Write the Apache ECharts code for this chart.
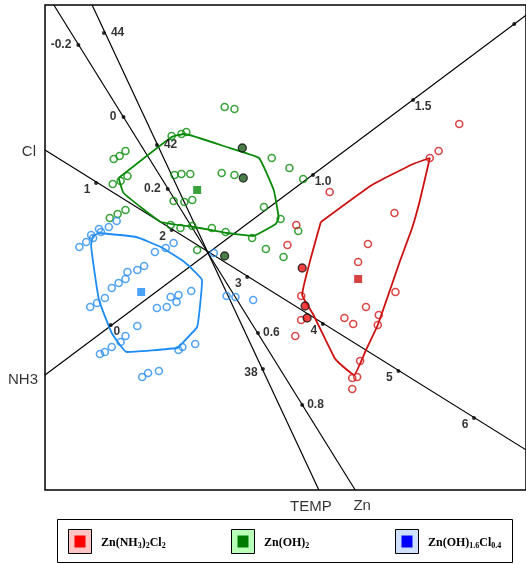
<!DOCTYPE html>
<html>
<head>
<meta charset="utf-8">
<script src="https://cdn.jsdelivr.net/npm/echarts/dist/echarts.min.js"></script>
<style>
html, body { margin: 0; padding: 0; background: #fff; }
#chart { width: 526px; height: 564px; }
</style>
</head>
<body>
<div id="chart"></div>
<script>
// Biplot scores (component 1, component 2)

// Zn(OH)2 samples
const greenOpen = [
  [-0.41, 1.17], [-0.31, 1.19], [-0.26, 1.21],
  [-1.00, 0.94], [-0.94, 0.97], [-0.88, 1.02],
  [-0.38, 0.78], [-0.31, 0.79], [-0.22, 0.79],
  [-1.01, 0.69], [-0.93, 0.72], [-0.86, 0.77],
  [-0.39, 0.52], [-0.28, 0.51], [-0.20, 0.53],
  [-1.04, 0.35], [-0.96, 0.39], [-0.88, 0.43],
  [-0.42, 0.28], [-0.32, 0.25], [-0.20, 0.27], [0.00, 0.25], [0.14, 0.21], [0.41, 0.15],
  [0.10, 0.80], [0.23, 0.78],
  [0.13, 1.46], [0.23, 1.44],
  [0.61, 0.95], [0.79, 0.85], [0.93, 0.74],
  [0.53, 0.46], [0.70, 0.34],
  [-0.15, 0.03], [0.55, 0.04], [0.73, -0.04], [0.88, 0.22]
];
const greenFilled = [[0.31, 1.05], [0.32, 0.75], [0.13, -0.03]];
const greenCentroid = [[-0.15, 0.63]];
const greenHull = [
  [-0.95, 0.75], [-0.41, 1.16], [-0.28, 1.19], [0.15, 1.06], [0.48, 0.95],
  [0.63, 0.63], [0.68, 0.35], [0.65, 0.29], [0.42, 0.17], [0.15, 0.20],
  [-0.18, 0.26], [-0.52, 0.31], [-0.90, 0.60], [-0.95, 0.75]
];

// Zn(OH)1.6Cl0.4 samples
const blueOpen = [
  [-1.35, 0.06], [-1.28, 0.11], [-1.23, 0.18], [-1.21, 0.15], [-1.15, 0.24], [-1.13, 0.21],
  [-1.05, 0.26], [-0.97, 0.32],
  [-0.58, 0.01], [-0.47, 0.05], [-0.39, 0.10],
  [-0.76, -0.17], [-0.69, -0.13], [-0.86, -0.19], [-0.88, -0.26], [-0.95, -0.30], [-1.02, -0.35],
  [-1.09, -0.45], [-1.17, -0.50], [-1.24, -0.54],
  [-0.21, -0.38], [-0.42, -0.44], [-0.34, -0.42], [-0.36, -0.49], [-0.46, -0.54], [-0.56, -0.55],
  [-0.76, -0.73],
  [-0.88, -0.83], [-0.93, -0.89], [-1.02, -0.94], [-1.09, -0.99], [-1.14, -1.01],
  [-0.17, -0.91], [-0.30, -0.94], [-0.34, -0.97],
  [-0.54, -1.18], [-0.65, -1.20], [-0.71, -1.24],
  [0.02, 0.00], [0.15, -0.43], [0.24, -0.44], [0.42, -0.47]
];
const blueCentroid = [[-0.72, -0.39]];
const blueHull = [
  [-1.15, 0.20], [-0.77, 0.16], [-0.52, 0.06], [-0.28, -0.09], [-0.10, -0.27],
  [-0.12, -0.52], [-0.15, -0.74], [-0.30, -0.90], [-0.35, -0.95], [-0.87, -0.99],
  [-1.02, -0.80], [-1.15, -0.47], [-1.23, 0.08], [-1.21, 0.17], [-1.15, 0.20]
];

// Zn(NH3)2Cl2 samples
const redOpen = [
  [2.52, 1.29], [2.31, 1.02], [2.22, 0.95], [1.20, 0.61], [1.86, 0.40],
  [0.86, 0.28], [0.77, 0.08], [1.59, 0.09], [1.49, -0.09], [1.87, -0.39],
  [1.57, -0.54], [1.35, -0.65], [1.44, -0.71], [1.70, -0.62], [1.69, -0.72],
  [0.91, -0.43], [0.91, -0.67], [0.85, -0.83],
  [1.51, -1.08], [1.43, -1.25], [1.48, -1.24], [1.43, -1.36]
];
const redFilled = [[0.92, -0.15], [0.95, -0.53], [0.97, -0.65]];
const redCentroid = [[1.49, -0.26]];
const redHull = [
  [1.11, 0.31], [1.63, 0.68], [2.05, 0.89], [2.22, 0.95], [2.12, 0.53],
  [2.04, 0.25], [1.92, -0.07], [1.69, -0.72], [1.57, -0.97], [1.45, -1.22],
  [1.33, -1.13], [1.25, -1.05], [1.03, -0.61], [0.92, -0.42], [1.11, 0.31]
];

// Variable axes: end points and calibration ticks
const clAxis = [[-1.70, 1.03], [3.30, -2.03]];
const clTickValues = ['1', '2', '3', '4', '5', '6'];
const clTickPos = [[-1.18, 0.70], [-0.41, 0.23], [0.36, -0.24], [1.13, -0.71], [1.90, -1.18], [2.67, -1.65]];

const nh3Axis = [[-1.70, -1.22], [3.30, 2.45]];
const nh3TickValues = ['0', '1.0', '1.5', '2.0'];
const nh3TickPos = [[-1.03, -0.72], [1.03, 0.78], [2.05, 1.53], [3.08, 2.29]];

const znAxis = [[-1.61, 2.48], [1.46, -2.37]];
const znTickValues = ['-0.2', '0', '0.2', '0.6', '0.8'];
const znTickPos = [[-1.36, 2.08], [-0.90, 1.36], [-0.45, 0.64], [0.47, -0.80], [0.92, -1.52]];

const tempAxis = [[-1.22, 2.48], [1.09, -2.37]];
const tempTickValues = ['44', '42', '38'];
const tempTickPos = [[-1.10, 2.20], [-0.56, 1.08], [0.52, -1.16]];

const axisNames = ['Cl', 'NH3', 'TEMP', 'Zn'];

// right edge of the visible frame, in score units; tick labels beyond it are cut off
const FRAME_RIGHT = 3.11;

const RED = '#d11a1a', GREEN = '#0a8c0a', BLUE = '#2b8ef0';
const SANS = '"Liberation Sans", Arial, Helvetica, sans-serif';
const SERIF = '"Liberation Serif", "Times New Roman", serif';

const tickLabelStyle = { show: true, fontSize: 12, fontWeight: 'bold', fontFamily: SANS, color: '#000' };

function axisLine(data) {
  return {
    type: 'line', data: data, showSymbol: false, symbol: 'none', silent: true, z: 1,
    lineStyle: { color: '#000', width: 1.2 }, clip: true
  };
}

function tickSeries(values, pos, labelFor) {
  return {
    type: 'scatter', symbol: 'circle', symbolSize: 4, z: 3, clip: false,
    itemStyle: { color: '#000' },
    data: pos.map((p, i) => ({
      value: p,
      label: Object.assign({}, tickLabelStyle, { formatter: values[i] }, labelFor(values[i], i),
        p[0] > FRAME_RIGHT - 0.1 ? { show: false } : {})
    }))
  };
}

function hull(data, color) {
  return {
    type: 'line', data: data, showSymbol: false, symbol: 'none', silent: true, z: 2,
    lineStyle: { color: color, width: 1.8 }, smooth: 0.1
  };
}

function openPoints(data, color) {
  return {
    type: 'scatter', data: data, symbol: 'circle', symbolSize: 7, z: 4,
    itemStyle: { color: 'rgba(255,255,255,0)', borderColor: color, borderWidth: 1.6 }
  };
}

function filledPoints(data, color) {
  return {
    type: 'scatter', data: data, symbol: 'circle', symbolSize: 8, z: 5,
    itemStyle: { color: color, borderColor: '#111', borderWidth: 1.3 }
  };
}

function centroid(data, color) {
  return {
    type: 'scatter', data: data, symbol: 'rect', symbolSize: 8, z: 5,
    itemStyle: { color: color }
  };
}

const nameStyle = { show: true, fontSize: 15, fontFamily: SANS, color: '#000' };

const option = {
  animation: false,
  backgroundColor: '#fff',
  grid: { left: 45, top: 5, width: 490, height: 485, show: true, borderColor: '#000', borderWidth: 1.5 },
  xAxis: { type: 'value', min: -1.70, max: 3.20, show: false },
  yAxis: { type: 'value', min: -2.37, max: 2.48, show: false },
  series: [
    axisLine(clAxis), axisLine(nh3Axis), axisLine(znAxis), axisLine(tempAxis),
    tickSeries(clTickValues, clTickPos, () => ({ position: 'inside', offset: [-9, 7] })),
    tickSeries(nh3TickValues, nh3TickPos, (v) => ({ position: 'inside', offset: v === '0' ? [6, 7] : [10, 7] })),
    tickSeries(znTickValues, znTickPos, (v) => (parseFloat(v) > 0.4
      ? { position: 'right', distance: 3 }
      : { position: 'left', distance: 5 })),
    tickSeries(tempTickValues, tempTickPos, (v) => (parseFloat(v) < 40
      ? { position: 'inside', offset: [-12, 4] }
      : { position: 'right', distance: 5 })),
    {
      type: 'scatter', symbolSize: 0, clip: false, silent: true, z: 6,
      data: [
        { value: clAxis[0], label: Object.assign({}, nameStyle, { formatter: axisNames[0], position: 'left', distance: 9, offset: [0, 2] }) },
        { value: nh3Axis[0], label: Object.assign({}, nameStyle, { formatter: axisNames[1], position: 'left', distance: 7, offset: [0, 5] }) },
        { value: tempAxis[1], label: Object.assign({}, nameStyle, { formatter: axisNames[2], position: 'inside', offset: [-8, 17] }) },
        { value: znAxis[1], label: Object.assign({}, nameStyle, { formatter: axisNames[3], position: 'inside', offset: [7, 16] }) }
      ]
    },
    hull(greenHull, '#0a8a0a'), hull(blueHull, '#1e8cf5'), hull(redHull, '#cc0f0f'),
    openPoints(greenOpen, GREEN), openPoints(blueOpen, BLUE), openPoints(redOpen, RED),
    filledPoints(greenFilled, '#1f5e1f'), filledPoints(redFilled, '#ee1111'),
    centroid(greenCentroid, '#0a8a0a'), centroid(blueCentroid, '#1e8cf5'), centroid(redCentroid, '#cc1111')
  ],
  graphic: (function () {
    const items = [
      { text: '{n|Zn(NH}{s|3}{n|)}{s|2}{n|Cl}{s|2}', light: '#ffc4c4', dark: '#ff0000', x: 68 },
      { text: '{n|Zn(OH)}{s|2}', light: '#b8ffb8', dark: '#007a00', x: 231 },
      { text: '{n|Zn(OH)}{s|1.6}{n|Cl}{s|0.4}', light: '#cfe0ff', dark: '#0000ff', x: 395 }
    ];
    const els = [{
      type: 'rect', shape: { x: 57.5, y: 519.5, width: 455, height: 43 },
      style: { fill: '#fff', stroke: '#000', lineWidth: 1 }, z: 10
    }];
    items.forEach(it => {
      els.push({ type: 'rect', shape: { x: it.x + 0.5, y: 529.5, width: 23, height: 24 },
        style: { fill: it.light, stroke: '#000', lineWidth: 1 }, z: 11 });
      els.push({ type: 'rect', shape: { x: it.x + 6.5, y: 535.5, width: 11, height: 12 },
        style: { fill: it.dark }, z: 12 });
      els.push({ type: 'text', x: it.x + 33, y: 543, z: 12,
        style: {
          text: it.text, verticalAlign: 'middle', align: 'left',
          rich: {
            n: { fontSize: 12, fontWeight: 'bold', fontFamily: SERIF, fill: '#000', lineHeight: 14 },
            s: { fontSize: 8, fontWeight: 'bold', fontFamily: SERIF, fill: '#000', lineHeight: 6, verticalAlign: 'bottom' }
          }
        } });
    });
    return els;
  })()
};

const chart = echarts.init(document.getElementById('chart'), null, { renderer: 'canvas' });
chart.setOption(option);
</script>
</body>
</html>
